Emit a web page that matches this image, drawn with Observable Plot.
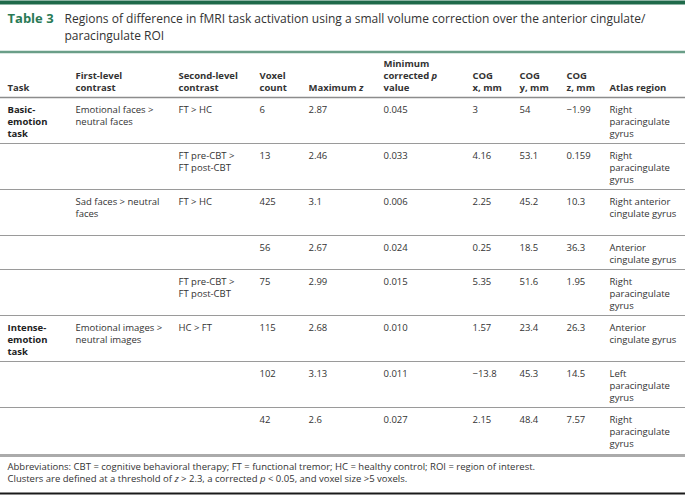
<!DOCTYPE html>
<html><head><meta charset="utf-8">
<script src="https://cdn.jsdelivr.net/npm/d3@7"></script>
<script src="https://cdn.jsdelivr.net/npm/@observablehq/plot@0.6"></script>
<style>html,body{margin:0;padding:0;background:#fff}svg{display:block}</style>
</head><body><div id="chart"></div>
<script>
// ---- data ----
const tableLabel = "Table 3";
const titleLines = ["Regions of difference in fMRI task activation using a small volume correction over the anterior cingulate/", "paracingulate ROI"];
const headers = ["Task", "First-level\ncontrast", "Second-level\ncontrast", "Voxel\ncount", "Maximum z", "Minimum\ncorrected p\nvalue", "COG\nx, mm", "COG\ny, mm", "COG\nz, mm", "Atlas region"];
const tasks = ["Basic-\nemotion\ntask", "", "", "", "", "Intense-\nemotion\ntask", "", ""];
const firstLevel = ["Emotional faces >\nneutral faces", "", "Sad faces > neutral\nfaces", "", "", "Emotional images >\nneutral images", "", ""];
const secondLevel = ["FT > HC", "FT pre-CBT >\nFT post-CBT", "FT > HC", "", "FT pre-CBT >\nFT post-CBT", "HC > FT", "", ""];
const voxelCount = ["6", "13", "425", "56", "75", "115", "102", "42"];
const maxZ = ["2.87", "2.46", "3.1", "2.67", "2.99", "2.68", "3.13", "2.6"];
const minP = ["0.045", "0.033", "0.006", "0.024", "0.015", "0.010", "0.011", "0.027"];
const cogX = ["3", "4.16", "2.25", "0.25", "5.35", "1.57", "\u221213.8", "2.15"];
const cogY = ["54", "53.1", "45.2", "18.5", "51.6", "23.4", "45.3", "48.4"];
const cogZ = ["\u22121.99", "0.159", "10.3", "36.3", "1.95", "26.3", "14.5", "7.57"];
const atlas = ["Right\nparacingulate\ngyrus", "Right\nparacingulate\ngyrus", "Right anterior\ncingulate gyrus", "Anterior\ncingulate gyrus", "Right\nparacingulate\ngyrus", "Anterior\ncingulate gyrus", "Left\nparacingulate\ngyrus", "Right\nparacingulate\ngyrus"];
const footnotes = ["Abbreviations: CBT = cognitive behavioral therapy; FT = functional tremor; HC = healthy control; ROI = region of interest.", "Clusters are defined at a threshold of z > 2.3, a corrected p < 0.05, and voxel size >5 voxels."];

// ---- layout ----
const W = 685, H = 495;
const FS = 9.5, LH = 12;
const colX = [7, 75, 178, 259, 308, 383, 472, 519, 566, 609];
const rowH = [46, 46, 46, 34, 46, 46, 46, 48];
const bodyTop = 97;
const seps = [bodyTop];
rowH.forEach(h => seps.push(seps[seps.length - 1] + h));
const columns = [tasks, firstLevel, secondLevel, voxelCount, maxZ, minP, cogX, cogY, cogZ, atlas];
const cells = [];
columns.forEach((col, c) => col.forEach((v, r) => {
  if (v !== "") cells.push({x: colX[c], y: seps[r] + 6.7, text: v, col: c});
}));
const headCells = headers.map((h, c) => ({x: colX[c], y: 90.5, text: h}));
const innerSeps = seps.slice(1, -1);
const lastSep = seps[seps.length - 1];
const textColor = "#333";

const cellOpts = {x: "x", y: "y", text: "text", textAnchor: "start", lineAnchor: "top", lineHeight: LH / FS, fontSize: FS};

const chart = Plot.plot({
  width: W, height: H, margin: 0,
  x: {domain: [0, W], range: [0, W], axis: null},
  y: {domain: [0, H], range: [0, H], axis: null},
  style: {fontFamily: "'Open Sans', sans-serif", background: "#fff", overflow: "visible"},
  marks: [
    Plot.ruleY([2], {stroke: "#1f6a4a", strokeWidth: 4}),
    Plot.text([tableLabel], {x: 7, y: 22, text: d => d, textAnchor: "start", lineAnchor: "bottom", fontSize: 13, fontWeight: "bold", fill: "#2a7a56"}),
    Plot.text(titleLines, {x: 64, y: (d, i) => 22 + i * 17.5, text: d => d, textAnchor: "start", lineAnchor: "bottom", fontSize: 12.6, fill: "#333", className: "title-line"}),
    Plot.ruleY([51.5], {stroke: "#6a9e88", strokeWidth: 2.5}),
    Plot.text(headCells, {x: "x", y: "y", text: "text", textAnchor: "start", lineAnchor: "bottom", lineHeight: LH / FS, fontSize: FS, fontWeight: "bold", fill: "#333"}),
    Plot.ruleY([bodyTop], {stroke: "#8c8c8c", strokeWidth: 1.5}),
    Plot.ruleY(innerSeps, {stroke: "#9a9a9a", strokeWidth: 1.2}),
    Plot.text(cells.filter(d => d.col !== 0), {...cellOpts, fill: textColor}),
    Plot.text(cells.filter(d => d.col === 0), {...cellOpts, fontWeight: "bold", fill: "#222"}),
    Plot.ruleY([lastSep], {stroke: "#ababab", strokeWidth: 3}),
    Plot.text([footnotes.join("\n")], {x: 7, y: lastSep + 5.5, text: d => d, textAnchor: "start", lineAnchor: "top", lineHeight: LH / FS, fontSize: FS, fill: "#333"}),
    Plot.ruleY([493], {stroke: "#1a1a1a", strokeWidth: 2})
  ]
});

// italicize standalone statistical symbols z and p
d3.select(chart).selectAll("text, tspan").each(function() {
  if (this.childElementCount) return;
  const s = this.textContent;
  const re = /(^|\s)([zp])(?=\s|$)/g;
  if (!re.test(s)) return;
  re.lastIndex = 0;
  const sel = d3.select(this);
  sel.text(null);
  let last = 0, m;
  while ((m = re.exec(s))) {
    const i = m.index + m[1].length;
    sel.append("tspan").text(s.slice(last, i));
    sel.append("tspan").attr("font-style", "italic").text(m[2]);
    last = i + 1;
  }
  sel.append("tspan").text(s.slice(last));
});

document.getElementById("chart").appendChild(chart);

// condense the title slightly so its first line fits the reference's measure
const titleEls = d3.select(chart).selectAll(".title-line text").nodes();
const first = titleEls.find(el => el.textContent === titleLines[0]);
if (first) {
  const ratio = 581 / first.getComputedTextLength();
  titleEls.forEach(el => {
    const len = el.getComputedTextLength();
    el.setAttribute("textLength", len * ratio);
    el.setAttribute("lengthAdjust", "spacingAndGlyphs");
  });
}
</script></body></html>
